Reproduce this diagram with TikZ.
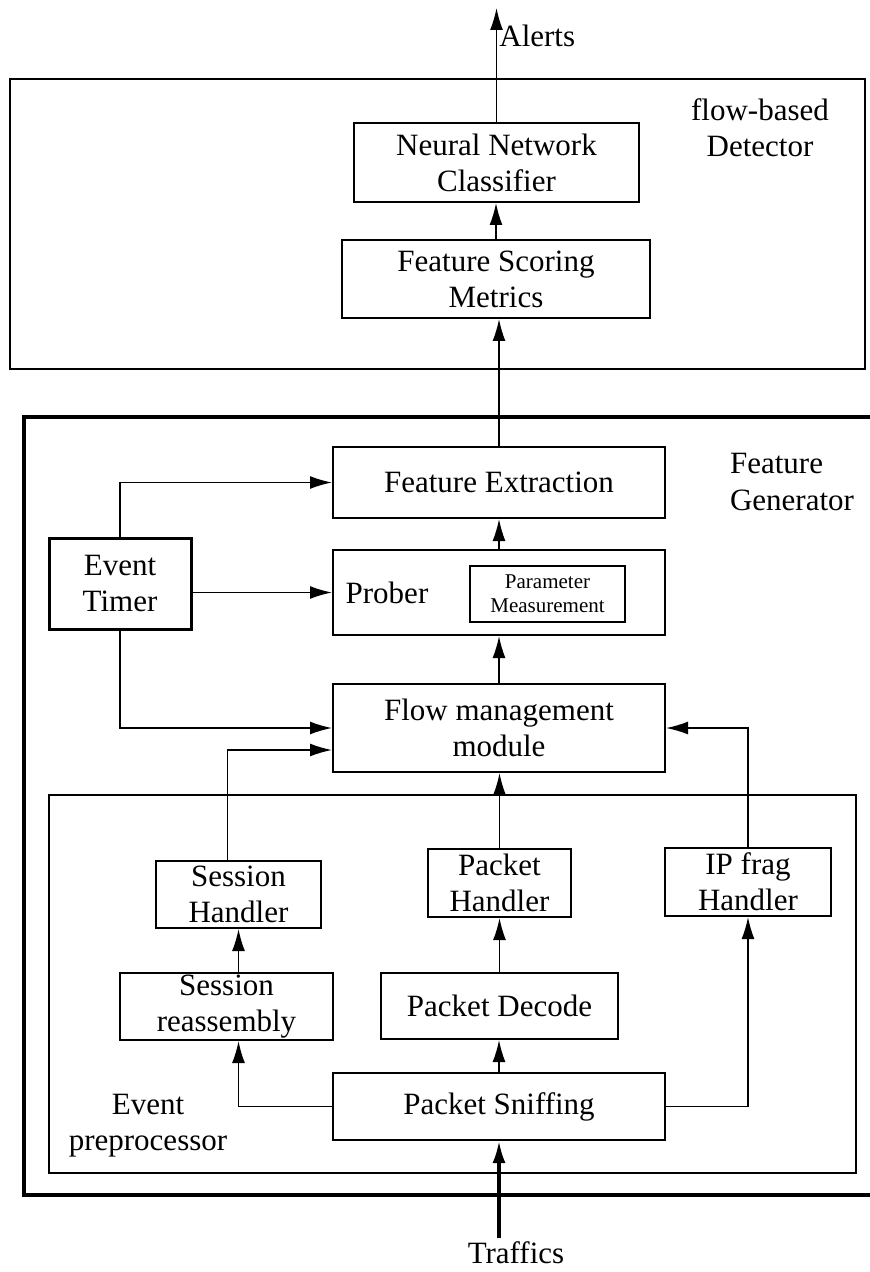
\documentclass[tikz,border=0pt]{standalone}
\usepackage{fontspec}
\setmainfont{Liberation Serif}
\usetikzlibrary{arrows.meta}

\begin{document}
\begin{tikzpicture}[x=0.5pt,y=-0.5pt,
    font=\fontsize{15.5}{18}\selectfont,
    box/.style={draw,line width=1pt,align=center,inner sep=0pt},
    arr/.style={-{Latex[length=11pt,width=6.5pt]},line width=0.8pt}]
    \useasboundingbox (0,0) rectangle (869,1272);

    % frames
    \draw[line width=1.2pt] (10,79) rectangle (865,369);
    \draw[line width=2pt] (880,417) -- (24,417) -- (24,1195) -- (880,1195);
    \draw[line width=1pt] (49,795) rectangle (856,1173);
    \node at (760,128) [align=center] {flow-based\\Detector};
    \node at (723,482) [anchor=west,align=left] {Feature\\Generator};
    \node at (148,1126) [align=center] {Event\\preprocessor};

    % detector
    \node (nn) at (496.5,162.5) [box,minimum width=142.5pt,minimum height=39.5pt] {Neural Network\\Classifier};
    \node (fs) at (496,279) [box,minimum width=154pt,minimum height=39pt] {Feature Scoring\\Metrics};
    \coordinate (top) at (496.5,8);
    \node (alerts) at (497,36) [anchor=west,inner sep=1pt] {Alerts};

    % feature generator
    \node (fe) at (499,482.5) [box,minimum width=166pt,minimum height=35.5pt] {Feature Extraction};
    \node (prober) at (499,592.5) [box,minimum width=166pt,minimum height=42.5pt] {};
    \node (proberlbl) at (387,593) {Prober};
    \node (pm) at (547.5,594) [box,minimum width=77.5pt,minimum height=28pt,
      font=\fontsize{10.5}{12}\selectfont] {Parameter\\Measurement};
    \node (flow) at (499,728) [box,minimum width=166pt,minimum height=44pt] {Flow management\\module};
    \node (timer) at (120,583.5) [box,line width=1.5pt,minimum width=71pt,minimum height=45.5pt] {Event\\Timer};

    % event preprocessor
    \node (sh) at (238.5,894.5) [box,minimum width=82.5pt,minimum height=33.5pt] {Session\\Handler};
    \node (ph) at (499.5,883) [box,minimum width=71.5pt,minimum height=34pt] {Packet\\Handler};
    \node (ip) at (748,882) [box,minimum width=83pt,minimum height=34pt] {IP frag\\Handler};
    \node (sr) at (226.5,1006.5) [box,minimum width=106.5pt,minimum height=33.5pt] {Session\\reassembly};
    \node (pd) at (499.5,1006) [box,minimum width=118.5pt,minimum height=33pt] {Packet Decode};
    \node (ps) at (499,1106.5) [box,minimum width=166pt,minimum height=33.5pt] {Packet Sniffing};
    \coordinate (tr) at (499,1238);
    \node (traffics) at (516,1253) {Traffics};

    % connectors
    \draw[arr] (nn.north) -- (top);
    \draw[arr] (fs.north) -- (fs.north |- nn.south);
    \draw[arr] (fe.north) -- (fe.north |- fs.south);
    \draw[arr] (prober.north) -- (fe.south);
    \draw[arr] (flow.north) -- (prober.south);
    \draw[arr] (timer.north) |- (fe.west);
    \draw[arr] (timer.east |- prober.west) -- (prober.west);
    \draw[arr] (timer.south) |- (flow.west);
    \draw[arr] ([xshift=-5.5pt]sh.north) |- ([yshift=-11pt]flow.west);
    \draw[arr] (ip.north) |- (flow.east);
    \draw[arr] (ph.north) -- (ph.north |- flow.south);
    \draw[arr] (pd.north) -- (pd.north |- ph.south);
    \draw[arr] (sh.south |- sr.north) -- (sh.south);
    \draw[arr] (ps.north) -- (ps.north |- pd.south);
    \draw[arr] (ps.west) -| (sh.south |- sr.south);
    \draw[arr] (ps.east) -| (ip.south);
    \draw[arr,line width=1.6pt] (tr) -- (ps.south);

  \end{tikzpicture}
\end{document}
